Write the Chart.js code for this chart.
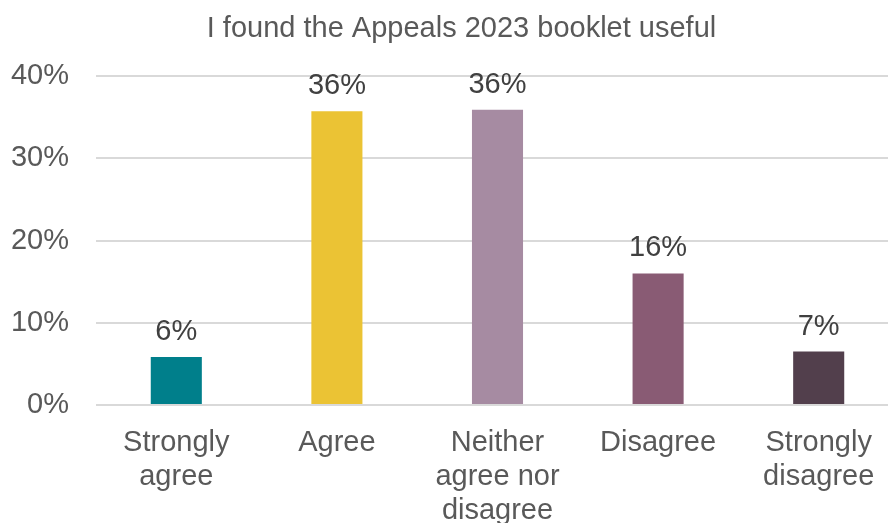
<!DOCTYPE html>
<html>
<head>
<meta charset="utf-8">
<script src="https://cdn.jsdelivr.net/npm/chart.js@4"></script>
<style>
  html, body { margin: 0; padding: 0; background: #fff; overflow: hidden; }
</style>
</head>
<body>
<canvas id="bookletChart" width="899" height="523"></canvas>
<script>
const chartTitle = 'I found the Appeals 2023 booklet useful';
const answers = [
  ['Strongly', 'agree'],
  'Agree',
  ['Neither', 'agree nor', 'disagree'],
  'Disagree',
  ['Strongly', 'disagree']
];
const shares = [5.85, 35.7, 35.9, 16.0, 6.5];
const barColours = ['#007f8b', '#ebc334', '#a68ba2', '#895b74', '#523f4c'];
const yTicks = [0, 10, 20, 30, 40];

const font = '"Liberation Sans", Arial, sans-serif';

// title sits a little right of the canvas centre, so it is drawn by hand
const titleText = {
  id: 'titleText',
  afterDraw(chart) {
    const ctx = chart.ctx;
    ctx.save();
    ctx.font = '29px ' + font;
    ctx.fillStyle = '#595959';
    ctx.textAlign = 'center';
    ctx.textBaseline = 'alphabetic';
    ctx.fillText(chartTitle, 461.5, 37);
    ctx.restore();
  }
};

// writes the rounded percentage above every bar
const valueLabels = {
  id: 'valueLabels',
  afterDatasetsDraw(chart) {
    const ctx = chart.ctx;
    const meta = chart.getDatasetMeta(0);
    ctx.save();
    ctx.font = '29px ' + font;
    ctx.fillStyle = '#404040';
    ctx.textAlign = 'center';
    ctx.textBaseline = 'alphabetic';
    meta.data.forEach(function(bar, i) {
      ctx.fillText(Math.round(shares[i]) + '%', bar.x, bar.y - 17);
    });
    ctx.restore();
  }
};

const config = {
  type: 'bar',
  data: {
    labels: answers,
    datasets: [{
      data: shares,
      backgroundColor: barColours,
      categoryPercentage: 1,
      barPercentage: 0.318
    }]
  },
  options: {
    responsive: false,
    animation: false,
    layout: { padding: { left: 11, right: 0, top: 76, bottom: 0 } },
    plugins: {
      legend: { display: false },
      tooltip: { enabled: false },
      title: { display: false }
    },
    scales: {
      x: {
        grid: { display: false },
        border: { display: false },
        ticks: {
          color: '#595959',
          font: { family: font, size: 29, lineHeight: 1.17 },
          padding: 13,
          maxRotation: 0,
          autoSkip: false
        },
        afterFit(scale) { scale.height = 118; }
      },
      y: {
        min: 0,
        max: 40,
        afterBuildTicks(scale) {
          scale.ticks = yTicks.map(v => ({ value: v }));
        },
        grid: { color: '#d9d9d9', lineWidth: 2, drawTicks: false },
        border: { display: false },
        ticks: {
          color: '#595959',
          font: { family: font, size: 29 },
          padding: 27,
          callback: v => v + '%'
        },
        afterFit(scale) { scale.width = 85; }
      }
    }
  },
  plugins: [valueLabels, titleText]
};

new Chart(document.getElementById('bookletChart'), config);
</script>
</body>
</html>
